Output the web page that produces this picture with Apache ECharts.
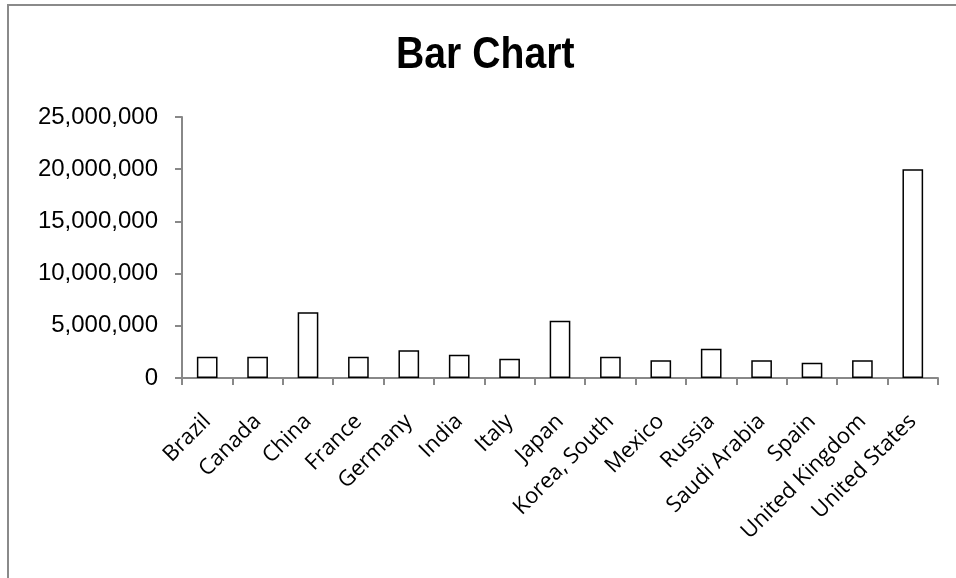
<!DOCTYPE html>
<html>
<head>
<meta charset="utf-8">
<script src="https://cdn.jsdelivr.net/npm/echarts@6/dist/echarts.min.js"></script>
<style>html,body{margin:0;padding:0;background:#fff;}#c{width:956px;height:578px;}</style>
</head>
<body>
<div id="c"></div>
<script>
const categories = ["Brazil","Canada","China","France","Germany","India","Italy","Japan","Korea, South","Mexico","Russia","Saudi Arabia","Spain","United Kingdom","United States"];
const values = [2040000,2040000,6290000,2040000,2650000,2230000,1850000,5490000,2040000,1690000,2810000,1690000,1470000,1690000,20000000];
const yTicks = [0,5000000,10000000,15000000,20000000,25000000];
const titleText = "Bar Chart";

const chart = echarts.init(document.getElementById('c'), null, {renderer:'canvas'});
chart.setOption({
  backgroundColor:'#fff',
  animation:false,
  graphic:[
    {type:'rect', shape:{x:8,y:5,width:2000,height:2000}, style:{fill:'none', stroke:'#8a8a8a', lineWidth:2}, z:-1},
    {type:'text', left:396, top:34, scaleX:0.89, originX:396, style:{text:titleText, fontFamily:'Liberation Sans', fontWeight:'bold', fontSize:44, fill:'#000'}}
  ],
  grid:{left:182, right:18, top:117, bottom:200, containLabel:false},
  xAxis:{type:'category', data:categories,
    axisLine:{lineStyle:{color:'#888', width:2}},
    axisTick:{show:true, length:7, lineStyle:{color:'#888', width:2}},
    axisLabel:{rotate:45, interval:0, margin:40, fontFamily:'Open Sans', fontSize:22, color:'#000'}},
  yAxis:{type:'value', min:yTicks[0], max:yTicks[yTicks.length-1], interval:5000000,
    splitLine:{show:false},
    axisLine:{show:true, lineStyle:{color:'#888', width:2}},
    axisTick:{show:true, length:7, lineStyle:{color:'#888', width:2}},
    axisLabel:{margin:24, fontFamily:'Liberation Sans', fontSize:24, color:'#000', formatter:v=>v.toLocaleString('en-US')}},
  series:[{type:'bar', data:values, barWidth:'41%', itemStyle:{color:'#fff', borderColor:'#000', borderWidth:1.5}}]
});
</script>
</body>
</html>
